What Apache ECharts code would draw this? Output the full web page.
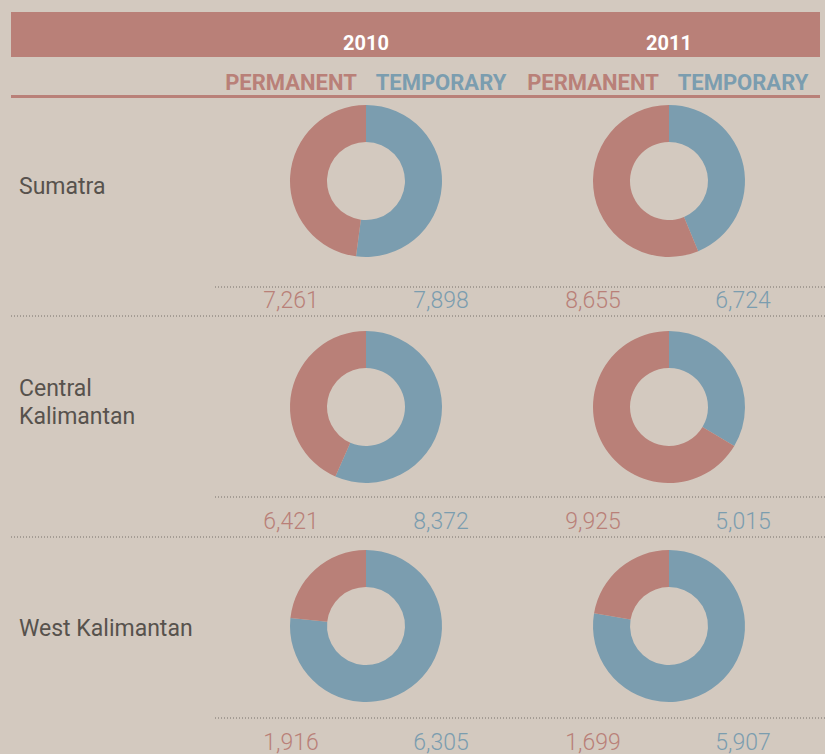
<!DOCTYPE html>
<html>
<head>
<meta charset="utf-8">
<script src="https://cdn.jsdelivr.net/npm/echarts@6/dist/echarts.min.js"></script>
<style>
html,body{margin:0;padding:0;background:#d3c9bf;}
#chart{width:825px;height:754px;}
</style>
</head>
<body>
<div id="chart"></div>
<script>
const regions = ['Sumatra', 'Central\nKalimantan', 'West Kalimantan'];
const years = ['2010', '2011'];
const typeLabels = ['PERMANENT', 'TEMPORARY'];
const permanent2010 = [7261, 6421, 1916];
const temporary2010 = [7898, 8372, 6305];
const permanent2011 = [8655, 9925, 1699];
const temporary2011 = [6724, 5015, 5907];

const RED = '#b98078', BLUE = '#7b9daf', BG = '#d3c9bf', GRAY = '#57524d', DOT = '#77716b';
const colX = [366, 669];
const rowY = [181, 407, 626];
const labelY = [[186], [388, 416], [628]];
const numY = [300, 521, 742];
const dotTop = [287, 497, 718];
const dotBottom = [316, 537];
const valueX = [[291, 441], [593, 743]];

const fmt = v => v.toLocaleString('en-US');
const permByYear = [permanent2010, permanent2011];
const tempByYear = [temporary2010, temporary2011];

const series = [];
const graphic = [];

graphic.push({type:'rect', shape:{x:11,y:12,width:809,height:45}, style:{fill:RED}, silent:true});
years.forEach((y,i)=>{
  graphic.push({type:'text', x:colX[i], y:43, style:{text:y, fill:'#ffffff', font:'bold 20px Roboto', textAlign:'center', textVerticalAlign:'middle'}});
});
valueX.forEach((xs)=>{
  typeLabels.forEach((t,k)=>{
    graphic.push({type:'text', x:xs[k], y:82, style:{text:t, fill:k===0?RED:BLUE, font:'bold 22px Roboto', textAlign:'center', textVerticalAlign:'middle'}});
  });
});
graphic.push({type:'rect', shape:{x:11,y:95,width:809,height:3}, style:{fill:RED}, silent:true});

regions.forEach((r,ri)=>{
  const lines = r.split('\n');
  lines.forEach((ln,li)=>{
    graphic.push({type:'text', x:19, y:labelY[ri][li], style:{text:ln, fill:GRAY, font:'23px Roboto', textAlign:'left', textVerticalAlign:'middle'}});
  });
  graphic.push({type:'line', shape:{x1:215,y1:dotTop[ri],x2:825,y2:dotTop[ri]}, style:{stroke:DOT, lineWidth:1, lineDash:[1,2]}});
  if (ri < dotBottom.length) {
    graphic.push({type:'line', shape:{x1:11,y1:dotBottom[ri],x2:825,y2:dotBottom[ri]}, style:{stroke:DOT, lineWidth:1, lineDash:[1,2]}});
  }
  years.forEach((y,yi)=>{
    const p = permByYear[yi][ri], t = tempByYear[yi][ri];
    series.push({
      type:'pie', silent:true, center:[colX[yi], rowY[ri]], radius:[39,76],
      startAngle:90, clockwise:true, label:{show:false}, labelLine:{show:false},
      emphasis:{disabled:true}, animation:false,
      data:[{name:'Temporary',value:t,itemStyle:{color:BLUE}},{name:'Permanent',value:p,itemStyle:{color:RED}}]
    });
    graphic.push({type:'text', x:valueX[yi][0], y:numY[ri], style:{text:fmt(p), fill:RED, font:'300 23px Roboto', textAlign:'center', textVerticalAlign:'middle'}});
    graphic.push({type:'text', x:valueX[yi][1], y:numY[ri], style:{text:fmt(t), fill:BLUE, font:'300 23px Roboto', textAlign:'center', textVerticalAlign:'middle'}});
  });
});

const chart = echarts.init(document.getElementById('chart'), null, {renderer:'svg'});
chart.setOption({backgroundColor:BG, animation:false, series, graphic});
</script>
</body>
</html>
